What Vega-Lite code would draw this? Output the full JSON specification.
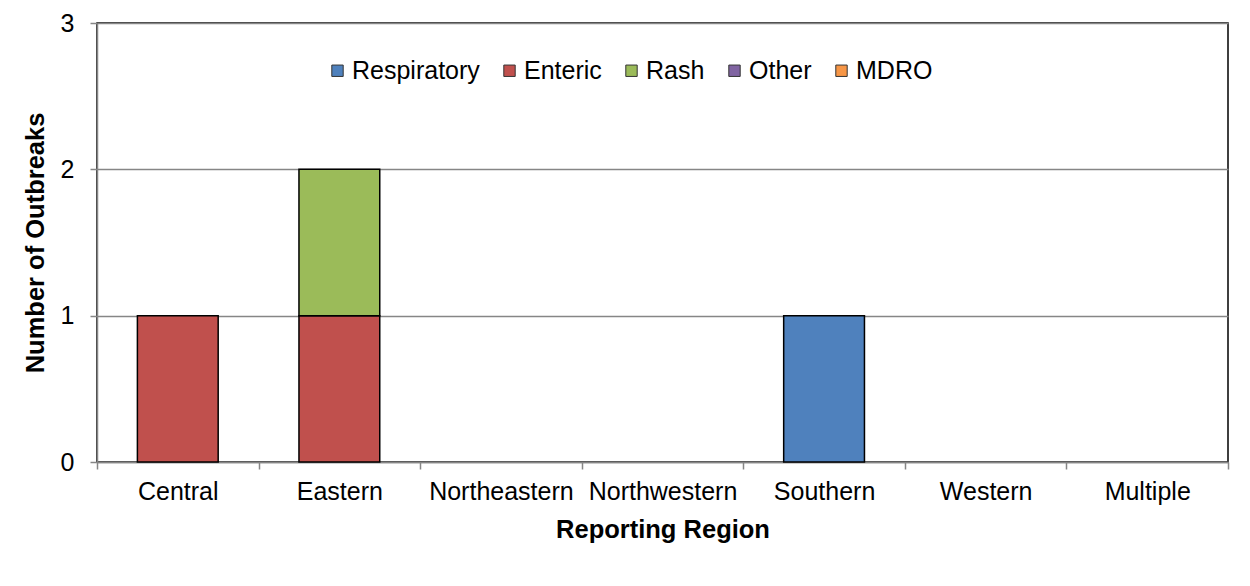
{
  "$schema": "https://vega.github.io/schema/vega-lite/v6.json",
  "autosize": "none",
  "width": 1131,
  "height": 439,
  "padding": {"left": 97, "top": 23, "right": 22, "bottom": 124},
  "background": "white",
  "config": {
    "view": {"stroke": "#000000", "strokeWidth": 1.5},
    "font": "Liberation Sans"
  },
  "data": {
    "values": [
      {"region": "Central", "type": "Enteric", "count": 1},
      {"region": "Eastern", "type": "Enteric", "count": 1},
      {"region": "Eastern", "type": "Rash", "count": 1},
      {"region": "Southern", "type": "Respiratory", "count": 1}
    ]
  },
  "mark": {"type": "bar", "stroke": "#000000", "strokeWidth": 1.5, "width": {"band": 0.5}},
  "encoding": {
    "x": {
      "field": "region",
      "type": "nominal",
      "sort": ["Central", "Eastern", "Northeastern", "Northwestern", "Southern", "Western", "Multiple"],
      "scale": {"domain": ["Central", "Eastern", "Northeastern", "Northwestern", "Southern", "Western", "Multiple"], "paddingInner": 0, "paddingOuter": 0},
      "axis": {
        "title": "Reporting Region",
        "titleFontSize": 25.5,
        "titleFontWeight": "bold",
        "titleColor": "#000000",
        "titlePadding": 13,
        "labelAngle": 0,
        "labelFontSize": 25,
        "labelColor": "#000000",
        "labelPadding": 10,
        "labelOverlap": false,
        "tickBand": "extent",
        "tickSize": 7,
        "tickColor": "#868686",
        "tickWidth": 1.5,
        "domainColor": "#868686",
        "domainWidth": 1.5,
        "grid": false
      }
    },
    "y": {
      "field": "count",
      "type": "quantitative",
      "stack": "zero",
      "scale": {"domain": [0, 3], "nice": false},
      "axis": {
        "title": "Number of Outbreaks",
        "titleFontSize": 25.5,
        "titleFontWeight": "bold",
        "titleColor": "#000000",
        "titleX": -62,
        "titleBaseline": "middle",
        "values": [0, 1, 2, 3],
        "format": "d",
        "labelFontSize": 25,
        "labelColor": "#000000",
        "labelPadding": 16,
        "tickSize": 7,
        "tickColor": "#868686",
        "tickWidth": 1.5,
        "domainColor": "#868686",
        "domainWidth": 1.5,
        "grid": true,
        "gridColor": "#868686",
        "gridWidth": 1.5
      }
    },
    "color": {
      "field": "type",
      "type": "nominal",
      "scale": {
        "domain": ["Respiratory", "Enteric", "Rash", "Other", "MDRO"],
        "range": ["#4F81BD", "#C0504D", "#9BBB59", "#8064A2", "#F79646"]
      },
      "legend": {
        "title": null,
        "orient": "none",
        "legendX": 228,
        "legendY": 35,
        "direction": "horizontal",
        "columns": 5,
        "columnPadding": 17,
        "symbolType": "square",
        "symbolSize": 130,
        "symbolStrokeColor": "#333333",
        "symbolStrokeWidth": 1,
        "labelFontSize": 25,
        "labelColor": "#000000",
        "labelOffset": 2
      }
    },
    "order": {"field": "type", "sort": "ascending"}
  }
}
